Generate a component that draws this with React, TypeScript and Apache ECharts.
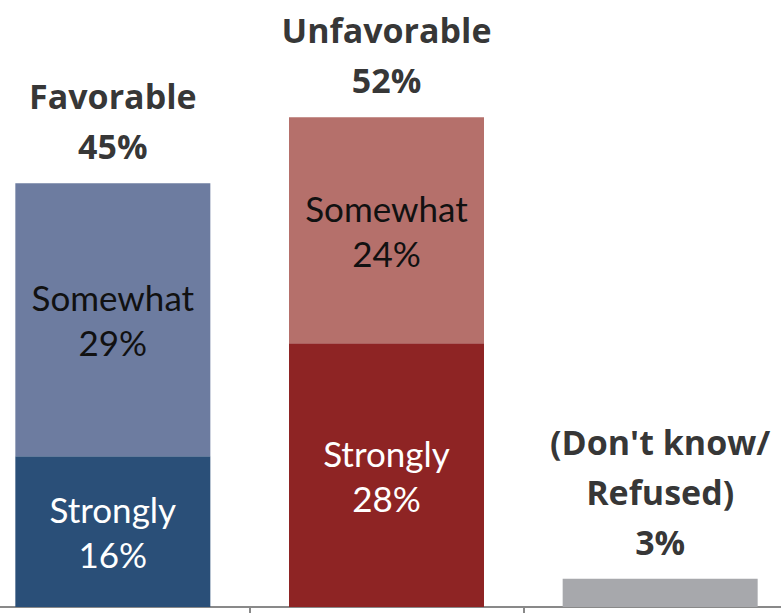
import React, { useEffect, useRef } from "react";
import * as echarts from "echarts";

const categories = ["Favorable", "Unfavorable", "(Don't know/\nRefused)"];
const strongly = [16, 28, null];
const somewhat = [29, 24, null];
const dontKnow = [null, null, 3];
const totals = [45, 52, 3];

const stronglyColors = ["#2a4f78", "#8e2424"];
const somewhatColors = ["#6d7ca0", "#b5706b"];
const grayColor = "#a7a8ac";

const FONT = "Lato, 'Open Sans', sans-serif";
const BOLD_FONT = "'Open Sans', Lato, sans-serif";

export default function App() {
  const ref = useRef<HTMLDivElement>(null);
  useEffect(() => {
    if (!ref.current) return;
    const chart = echarts.init(ref.current, null, { renderer: "svg" });
    const innerLabel = (name: string, color: string) => ({
      show: true,
      position: "inside",
      formatter: (p: any) => `${name}\n${p.value}%`,
      color,
      fontFamily: FONT,
      fontSize: 35,
      lineHeight: 45,
    });
    chart.setOption({
      animation: false,
      grid: { left: 0, right: 0, top: 42, bottom: 6, containLabel: false },
      xAxis: {
        type: "category",
        data: categories,
        axisLine: { show: true, lineStyle: { color: "#898989", width: 2 } },
        axisTick: { show: true, length: 6, lineStyle: { color: "#898989", width: 2 } },
        axisLabel: { show: false },
        splitLine: { show: false },
      },
      yAxis: {
        type: "value",
        min: 0,
        max: 60,
        show: false,
        splitLine: { show: false },
      },
      series: [
        {
          name: "Strongly",
          type: "bar",
          stack: "total",
          barWidth: 195,
          data: strongly.map((v, i) =>
            v == null ? null : { value: v, itemStyle: { color: stronglyColors[i] } }
          ),
          label: innerLabel("Strongly", "#ffffff"),
        },
        {
          name: "Somewhat",
          type: "bar",
          stack: "total",
          barWidth: 195,
          data: somewhat.map((v, i) =>
            v == null ? null : { value: v, itemStyle: { color: somewhatColors[i] } }
          ),
          label: innerLabel("Somewhat", "#111111"),
        },
        {
          name: "Don't know",
          type: "bar",
          stack: "total",
          barWidth: 195,
          data: dontKnow.map((v) => (v == null ? null : { value: v, itemStyle: { color: grayColor } })),
        },
        {
          name: "Total",
          type: "scatter",
          symbolSize: 0,
          data: totals,
          silent: true,
          label: {
            show: true,
            position: "top",
            distance: 12,
            formatter: (p: any) => `${categories[p.dataIndex]}\n${p.value}%`,
            color: "#000000",
            fontFamily: BOLD_FONT,
            fontWeight: "bold",
            fontSize: 34,
            lineHeight: 50,
          },
        },
      ],
    });
    return () => chart.dispose();
  }, []);
  return (
    <div
      style={{
        position: "fixed",
        left: 0,
        top: 0,
        width: 781,
        height: 613,
        overflow: "hidden",
        background: "#ffffff",
      }}
    >
      <div ref={ref} style={{ position: "absolute", left: -24, top: 0, width: 821, height: 613 }} />
    </div>
  );
}
